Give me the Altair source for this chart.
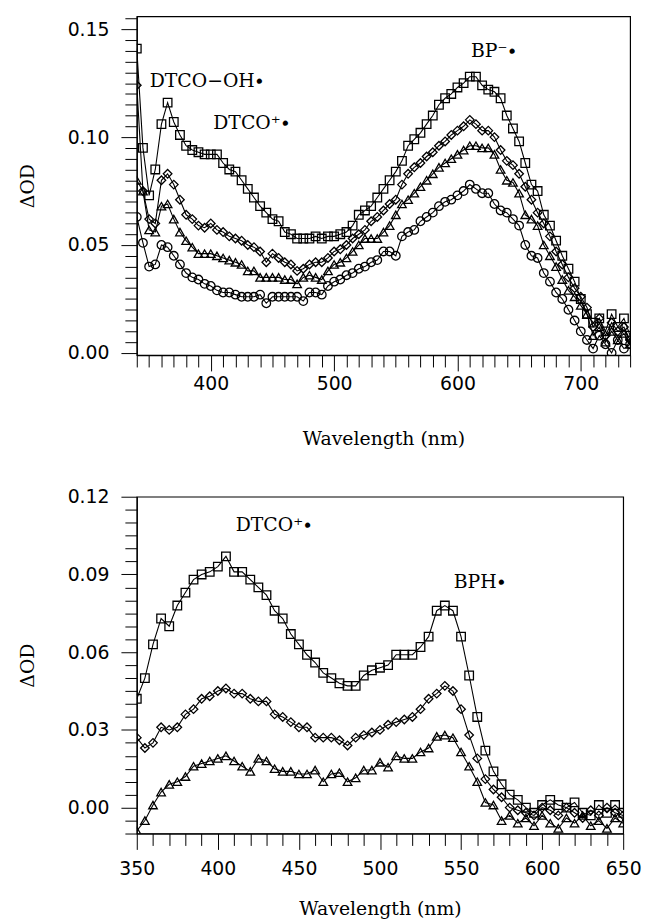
import altair as alt
import pandas as pd

# ---------------- data: top panel (5 nm steps, 340-740 nm) ----------------
top_wl = list(range(340, 745, 5))
top_sq = [0.141, 0.095, 0.073, 0.085, 0.106, 0.116, 0.107, 0.101, 0.096, 0.094,
          0.093, 0.092, 0.092, 0.092, 0.088, 0.085, 0.084, 0.080, 0.076, 0.072,
          0.068, 0.065, 0.062, 0.061, 0.056, 0.055, 0.053, 0.053, 0.053, 0.054,
          0.053, 0.054, 0.054, 0.055, 0.056, 0.059, 0.064, 0.066, 0.068, 0.072,
          0.076, 0.080, 0.084, 0.089, 0.096, 0.099, 0.102, 0.106, 0.110, 0.115,
          0.118, 0.120, 0.123, 0.125, 0.128, 0.128, 0.124, 0.122, 0.121, 0.118,
          0.110, 0.104, 0.098, 0.088, 0.078, 0.075, 0.064, 0.059, 0.052, 0.045,
          0.039, 0.033, 0.025, 0.018, 0.014, 0.016, 0.010, 0.018, 0.012, 0.016,
          0.008]
top_di = [0.124, 0.075, 0.062, 0.060, 0.080, 0.083, 0.078, 0.071, 0.064, 0.062,
          0.059, 0.058, 0.060, 0.057, 0.056, 0.054, 0.053, 0.052, 0.050, 0.049,
          0.047, 0.042, 0.046, 0.044, 0.042, 0.041, 0.038, 0.039, 0.041, 0.042,
          0.042, 0.044, 0.047, 0.048, 0.050, 0.053, 0.055, 0.057, 0.061, 0.063,
          0.066, 0.069, 0.071, 0.078, 0.083, 0.086, 0.088, 0.091, 0.093, 0.096,
          0.098, 0.101, 0.103, 0.105, 0.108, 0.106, 0.103, 0.103, 0.100, 0.094,
          0.089, 0.087, 0.083, 0.077, 0.071, 0.065, 0.060, 0.054, 0.047, 0.041,
          0.035, 0.030, 0.026, 0.021, 0.012, 0.016, 0.008, 0.014, 0.010, 0.012,
          0.006]
top_tr = [0.080, 0.075, 0.057, 0.056, 0.068, 0.069, 0.062, 0.056, 0.052, 0.049,
          0.046, 0.046, 0.046, 0.045, 0.044, 0.043, 0.042, 0.041, 0.038, 0.038,
          0.035, 0.035, 0.035, 0.035, 0.034, 0.034, 0.032, 0.035, 0.036, 0.035,
          0.034, 0.038, 0.041, 0.042, 0.044, 0.047, 0.050, 0.053, 0.053, 0.053,
          0.056, 0.059, 0.064, 0.069, 0.071, 0.074, 0.077, 0.080, 0.083, 0.086,
          0.088, 0.090, 0.092, 0.094, 0.096, 0.096, 0.095, 0.095, 0.092, 0.085,
          0.080, 0.079, 0.074, 0.064, 0.062, 0.059, 0.050, 0.045, 0.040, 0.034,
          0.029, 0.026, 0.022, 0.018, 0.008, 0.012, 0.005, 0.010, 0.006, 0.009,
          0.004]
top_ci = [0.063, 0.051, 0.040, 0.041, 0.050, 0.049, 0.045, 0.041, 0.037, 0.035,
          0.034, 0.032, 0.031, 0.029, 0.028, 0.028, 0.027, 0.026, 0.026, 0.026,
          0.027, 0.023, 0.026, 0.026, 0.026, 0.026, 0.026, 0.024, 0.028, 0.028,
          0.027, 0.031, 0.033, 0.034, 0.036, 0.037, 0.039, 0.040, 0.042, 0.043,
          0.047, 0.047, 0.045, 0.054, 0.056, 0.057, 0.061, 0.063, 0.065, 0.068,
          0.070, 0.071, 0.073, 0.075, 0.078, 0.076, 0.074, 0.074, 0.069, 0.066,
          0.065, 0.062, 0.059, 0.050, 0.045, 0.044, 0.037, 0.033, 0.028, 0.025,
          0.020, 0.015, 0.010, 0.006, 0.002, 0.008, 0.004, 0.000, 0.006, 0.002,
          0.004]

# ---------------- data: bottom panel (5 nm steps, 350-650 nm) ----------------
bot_wl = list(range(350, 655, 5))
bot_sq = [0.042, 0.050, 0.063, 0.073, 0.070, 0.078, 0.083, 0.088, 0.090, 0.091,
          0.093, 0.097, 0.091, 0.091, 0.088, 0.085, 0.082, 0.076, 0.073, 0.067,
          0.063, 0.059, 0.056, 0.052, 0.050, 0.048, 0.047, 0.047, 0.051, 0.053,
          0.054, 0.055, 0.059, 0.059, 0.059, 0.062, 0.066, 0.076, 0.078, 0.076,
          0.066, 0.051, 0.035, 0.022, 0.014, 0.009, 0.005, 0.003, 0.000, -0.002,
          0.001, 0.003, 0.001, 0.000, 0.002, -0.002, -0.003, 0.001, -0.002, 0.001,
          -0.002]
bot_di = [0.027, 0.023, 0.025, 0.031, 0.030, 0.031, 0.036, 0.038, 0.042, 0.043,
          0.045, 0.046, 0.044, 0.044, 0.042, 0.041, 0.041, 0.036, 0.035, 0.033,
          0.031, 0.031, 0.027, 0.027, 0.027, 0.026, 0.024, 0.027, 0.028, 0.029,
          0.030, 0.032, 0.033, 0.034, 0.035, 0.038, 0.042, 0.044, 0.047, 0.045,
          0.038, 0.028, 0.019, 0.011, 0.007, 0.004, 0.000, -0.001, -0.002, -0.003,
          0.000, -0.001, -0.003, 0.000, -0.002, -0.004, -0.001, -0.003, 0.000, -0.002,
          -0.003]
bot_tr = [-0.009, -0.005, 0.001, 0.006, 0.009, 0.010, 0.012, 0.016, 0.017, 0.018,
          0.019, 0.020, 0.018, 0.016, 0.014, 0.019, 0.018, 0.015, 0.014, 0.014,
          0.013, 0.013, 0.0145, 0.010, 0.013, 0.0135, 0.010, 0.0115, 0.0145, 0.0145,
          0.0175, 0.0156, 0.020, 0.019, 0.019, 0.0215, 0.023, 0.0275, 0.028, 0.027,
          0.0215, 0.016, 0.010, 0.002, 0.001, -0.005, -0.003, -0.006, -0.004, -0.007,
          -0.003, -0.006, -0.008, -0.004, -0.006, -0.003, -0.007, -0.005, -0.008, -0.004,
          -0.006]

# annotations: (text, wavelength, ΔOD)
top_labels = ["DTCO\u2212OH\u2219", "DTCO\u207a\u2219", "BP\u207b\u2219"]
top_label_x = [350.5, 402, 611]
top_label_y = [0.126, 0.1065, 0.140]
bot_labels = ["DTCO\u207a\u2219", "BPH\u2219"]
bot_label_x = [411, 545.5]
bot_label_y = [0.109, 0.087]

# axis tick values
top_xticks = list(range(340, 750, 10))
top_yticks = [i * 0.005 for i in range(0, 32)]
bot_xticks = list(range(350, 660, 10))
bot_yticks = [i * 0.005 for i in range(-2, 25)]

SHAPES = ["square", "diamond", "triangle-up", "circle"]
SERIES = ["sq", "di", "tr", "ci"]


def long_df(wl, series_dict):
    rows = []
    for name, vals in series_dict.items():
        assert len(vals) == len(wl), (name, len(vals), len(wl))
        for w, v in zip(wl, vals):
            rows.append({"wl": w, "od": v, "s": name})
    return pd.DataFrame(rows)


def panel(df, lab_df, xdom, ydom, xticks, yticks, xmajor, ymajor_milli,
          w, h, x_lab_pad, x_title_pad):
    xtest = f"datum.value % {xmajor} === 0"
    xaxis = alt.Axis(
        values=xticks, tickCount=len(xticks) + 5,
        labelExpr=f"{xtest} ? datum.label : ''",
        labelFontSize={"condition": {"test": xtest, "value": 19}, "value": 0},
        tickSize={"condition": {"test": xtest, "value": 16}, "value": 12},
        labelOverlap=False, labelFlush=False, grid=False,
        labelPadding=x_lab_pad, titlePadding=x_title_pad,
        title="Wavelength (nm)",
    )
    ytest = f"round(datum.value*1000) % {ymajor_milli} === 0"
    yaxis = alt.Axis(
        values=yticks, tickCount=len(yticks) + 5,
        labelExpr=f"{ytest} ? format(datum.value, '.2f') : ''",
        labelFontSize={"condition": {"test": ytest, "value": 19}, "value": 0},
        tickSize={"condition": {"test": ytest, "value": 16}, "value": 12},
        labelOverlap=False, labelFlush=False, grid=False,
        labelPadding=12, titlePadding=30,
        title="\u0394OD",
    )
    x = alt.X("wl:Q", scale=alt.Scale(domain=xdom, nice=False, zero=False), axis=xaxis)
    y = alt.Y("od:Q", scale=alt.Scale(domain=ydom, nice=False, zero=False), axis=yaxis)
    base = alt.Chart(df)
    lines = base.mark_line(color="black", strokeWidth=1.1, clip=True).encode(
        x=x, y=y, detail="s:N", order="wl:Q")
    pts = base.mark_point(filled=False, color="black", strokeWidth=1.3, size=75,
                          opacity=1, clip=True).encode(
        x=x, y=y,
        shape=alt.Shape("s:N", scale=alt.Scale(domain=SERIES, range=SHAPES), legend=None),
    )
    txt = alt.Chart(lab_df).mark_text(
        align="left", baseline="middle", font="DejaVu Serif", fontSize=19, color="black"
    ).encode(x="x:Q", y="y:Q", text="t:N")
    return alt.layer(lines, pts, txt).properties(width=w, height=h)


top_df = long_df(top_wl, {"sq": top_sq, "di": top_di, "tr": top_tr, "ci": top_ci})
bot_df = long_df(bot_wl, {"sq": bot_sq, "di": bot_di, "tr": bot_tr})
top_lab = pd.DataFrame({"t": top_labels, "x": top_label_x, "y": top_label_y})
bot_lab = pd.DataFrame({"t": bot_labels, "x": bot_label_x, "y": bot_label_y})

top = panel(top_df, top_lab, [340, 740], [-0.001, 0.156], top_xticks, top_yticks,
            100, 50, 498, 342, 4, 36)
bottom = panel(bot_df, bot_lab, [350, 650], [-0.01, 0.12], bot_xticks, bot_yticks,
               50, 30, 491, 340, 10, 22)

chart = alt.vconcat(top, bottom, spacing=38).properties(
    padding={"left": 10, "top": 3, "right": 0, "bottom": 2}
).configure_view(
    stroke="black", strokeWidth=1.2
).configure_axis(
    domainColor="black", domainWidth=1.2, tickColor="black", tickWidth=1,
    labelColor="black", labelFont="DejaVu Sans", labelFontSize=19,
    titleColor="black", titleFont="DejaVu Serif", titleFontSize=19,
    titleFontWeight="normal",
)

chart.save("out.html", embed_options={"renderer": "svg", "actions": False})
